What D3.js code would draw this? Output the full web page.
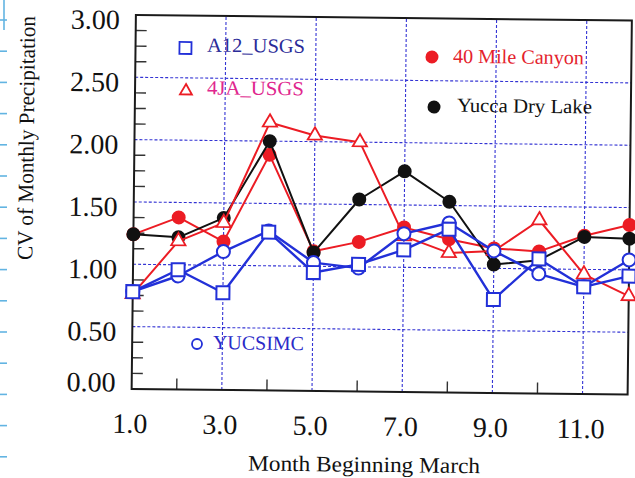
<!DOCTYPE html>
<html>
<head>
<meta charset="utf-8">
<script src="https://cdn.jsdelivr.net/npm/d3@7/dist/d3.min.js"></script>
<style>
  html, body { margin: 0; padding: 0; background: #fff; }
  svg { display: block; }
  text { font-family: "Liberation Serif", "Times New Roman", serif; }
</style>
</head>
<body>
<script>
// Months (1 = March) and coefficient of variation of monthly precipitation per station
const months = [1, 2, 3, 4, 5, 6, 7, 8, 9, 10, 11, 12];
const a12Usgs        = [0.78, 0.96, 0.78, 1.27, 0.95, 1.02, 1.14, 1.31, 0.75, 1.08, 0.86, 0.95];
const ja4Usgs        = [0.76, 1.19, 1.34, 2.15, 2.05, 2.00, 1.25, 1.12, 1.14, 1.39, 0.96, 0.79];
const fortyMileCanyon = [1.24, 1.38, 1.19, 1.89, 1.12, 1.20, 1.32, 1.23, 1.16, 1.14, 1.27, 1.36];
const yuccaDryLake   = [1.24, 1.22, 1.38, 2.00, 1.11, 1.54, 1.77, 1.53, 1.03, 1.07, 1.26, 1.25];
const yucsimc        = [0.78, 0.91, 1.11, 1.28, 1.03, 0.99, 1.27, 1.36, 1.14, 0.96, 0.86, 1.08];

const xTicks = [1, 3, 5, 7, 9, 11];
const xMinorTicks = [2, 4, 6, 8, 10];
const yTicks = [0, 0.5, 1.0, 1.5, 2.0, 2.5, 3.0];

const W = 635, H = 478;
const BLUE = "#2230d8", RED = "#ec1c24", BLACK = "#111111", GRID = "#3434d4";

const svg = d3.select("body").append("svg")
  .attr("width", W).attr("height", H);

svg.append("rect").attr("width", W).attr("height", H).attr("fill", "#fff");

// ruled margin of the sheet along the left edge
const margin = svg.append("g").attr("stroke", "#62b4e2").attr("stroke-width", 1.6);
margin.append("line").attr("x1", 4).attr("x2", 4).attr("y1", 0).attr("y2", 30);
margin.selectAll("line.rule").data(d3.range(20, H, 31.2)).join("line")
  .attr("class", "rule")
  .attr("x1", 0).attr("x2", 7).attr("y1", d => d).attr("y2", d => d);

// whole figure sits slightly askew on the page
const g = svg.append("g").attr("transform", "rotate(0.65,381.75,204.75)");

const x = d3.scaleLinear().domain([1, 12]).range([133.75, 629.75]);
const y = d3.scaleLinear().domain([0, 3]).range([391.75, 17.75]);

// dashed grid
g.append("g").selectAll("line").data(xTicks.filter(d => d > 1)).join("line")
  .attr("x1", d => x(d)).attr("x2", d => x(d))
  .attr("y1", y(0)).attr("y2", y(3))
  .attr("stroke", GRID).attr("stroke-width", 1.1).attr("stroke-dasharray", "3,2");
g.append("g").selectAll("line").data(yTicks.filter(d => d > 0 && d < 3)).join("line")
  .attr("x1", x(1)).attr("x2", x(12))
  .attr("y1", d => y(d)).attr("y2", d => y(d))
  .attr("stroke", GRID).attr("stroke-width", 1.1).attr("stroke-dasharray", "3,2");

// minor ticks
const yMinor = d3.range(0.125, 3, 0.125).filter(v => Math.abs(v / 0.5 - Math.round(v / 0.5)) > 1e-6);
g.append("g").selectAll("line").data(yMinor).join("line")
  .attr("x1", x(1)).attr("x2", x(1) + 11)
  .attr("y1", d => y(d)).attr("y2", d => y(d))
  .attr("stroke", "#333").attr("stroke-width", 1.4);
g.append("g").selectAll("line").data(xMinorTicks).join("line")
  .attr("x1", d => x(d)).attr("x2", d => x(d))
  .attr("y1", y(0)).attr("y2", y(0) - 11)
  .attr("stroke", "#333").attr("stroke-width", 1.4);

// frame
g.append("rect")
  .attr("x", x(1)).attr("y", y(3))
  .attr("width", x(12) - x(1)).attr("height", y(0) - y(3))
  .attr("fill", "none").attr("stroke", "#1a1a1a").attr("stroke-width", 2);

// axes labels
const yAxis = g.append("g").attr("transform", `translate(${x(1)},0)`)
  .call(d3.axisLeft(y).tickValues(yTicks).tickFormat(d3.format(".2f")).tickSize(0).tickPadding(16));
yAxis.select(".domain").remove();
yAxis.selectAll("text")
  .attr("font-size", 28).attr("fill", "#111")
  .attr("font-family", "Liberation Serif, serif")
  .attr("dy", d => d === 0 ? "2.5" : "0.5em");

const xAxis = g.append("g").attr("transform", `translate(0,${y(0)})`)
  .call(d3.axisBottom(x).tickValues(xTicks).tickFormat(d3.format(".1f")).tickSize(0));
xAxis.select(".domain").remove();
xAxis.selectAll("text")
  .attr("font-size", 28).attr("fill", "#111")
  .attr("font-family", "Liberation Serif, serif")
  .attr("y", 44).attr("dy", 0).attr("dx", -2);

g.append("text")
  .attr("x", 367).attr("y", 472)
  .attr("text-anchor", "middle")
  .attr("font-size", 22).attr("fill", "#111")
  .attr("textLength", 232).attr("lengthAdjust", "spacingAndGlyphs")
  .text("Month Beginning March");

g.append("text")
  .attr("transform", "translate(33,142) rotate(-90)")
  .attr("text-anchor", "middle")
  .attr("font-size", 22).attr("fill", "#111")
  .attr("textLength", 244).attr("lengthAdjust", "spacingAndGlyphs")
  .text("CV of Monthly Precipitation");

// series lines and markers
const line = d3.line().x((d, i) => x(months[i])).y(d => y(d));

function drawLine(values, color, width) {
  g.append("path").datum(values)
    .attr("d", line).attr("fill", "none")
    .attr("stroke", color).attr("stroke-width", width)
    .attr("stroke-linejoin", "round");
}

const triangle = d3.symbol(d3.symbolTriangle, 88);

// 40 Mile Canyon
drawLine(fortyMileCanyon, RED, 2);
g.append("g").selectAll("circle").data(fortyMileCanyon).join("circle")
  .attr("cx", (d, i) => x(months[i])).attr("cy", d => y(d)).attr("r", 7)
  .attr("fill", RED);

// Yucca Dry Lake
drawLine(yuccaDryLake, BLACK, 2);
g.append("g").selectAll("circle").data(yuccaDryLake).join("circle")
  .attr("cx", (d, i) => x(months[i])).attr("cy", d => y(d)).attr("r", 7)
  .attr("fill", BLACK);

// 4JA_USGS
drawLine(ja4Usgs, RED, 2);
g.append("g").selectAll("path").data(ja4Usgs).join("path")
  .attr("d", triangle)
  .attr("transform", (d, i) => `translate(${x(months[i])},${y(d)})`)
  .attr("fill", "#fff").attr("stroke", RED).attr("stroke-width", 1.8);

// YUCSIMC
drawLine(yucsimc, BLUE, 2.4);
g.append("g").selectAll("circle").data(yucsimc).join("circle")
  .attr("cx", (d, i) => x(months[i])).attr("cy", d => y(d)).attr("r", 6.5)
  .attr("fill", "#fff").attr("stroke", BLUE).attr("stroke-width", 2);

// A12_USGS
drawLine(a12Usgs, BLUE, 2.4);
g.append("g").selectAll("rect").data(a12Usgs).join("rect")
  .attr("x", (d, i) => x(months[i]) - 6.5).attr("y", d => y(d) - 6.5)
  .attr("width", 13).attr("height", 13)
  .attr("fill", "#fff").attr("stroke", BLUE).attr("stroke-width", 2);

// legend entries
const legend = g.append("g").attr("font-size", 20);

legend.append("rect").attr("x", 177.7).attr("y", 44.2).attr("width", 12).attr("height", 12)
  .attr("fill", "#fff").attr("stroke", BLUE).attr("stroke-width", 1.8);
legend.append("text").attr("x", 205.3).attr("y", 53.7).attr("fill", "#2b2b98")
  .attr("textLength", 98).attr("lengthAdjust", "spacingAndGlyphs").text("A12_USGS");

legend.append("path").attr("d", d3.symbol(d3.symbolTriangle, 62))
  .attr("transform", "translate(184.7,93.2)")
  .attr("fill", "#fff").attr("stroke", RED).attr("stroke-width", 1.8);
legend.append("text").attr("x", 205.7).attr("y", 96.3).attr("fill", "#e0268e")
  .attr("textLength", 97).attr("lengthAdjust", "spacingAndGlyphs").text("4JA_USGS");

legend.append("circle").attr("cx", 430.3).attr("cy", 56.4).attr("r", 6.5).attr("fill", RED);
legend.append("text").attr("x", 451.3).attr("y", 62).attr("fill", "#e4222c")
  .attr("textLength", 131).attr("lengthAdjust", "spacingAndGlyphs").text("40 Mile Canyon");

legend.append("circle").attr("cx", 432.9).attr("cy", 106.4).attr("r", 6.5).attr("fill", BLACK);
legend.append("text").attr("x", 455.9).attr("y", 111).attr("fill", "#111")
  .attr("textLength", 135).attr("lengthAdjust", "spacingAndGlyphs").text("Yucca Dry Lake");

legend.append("circle").attr("cx", 198.6).attr("cy", 346.1).attr("r", 5)
  .attr("fill", "#fff").attr("stroke", BLUE).attr("stroke-width", 1.8);
legend.append("text").attr("x", 214.6).attr("y", 351).attr("fill", "#2a2ac8")
  .attr("textLength", 91).attr("lengthAdjust", "spacingAndGlyphs").text("YUCSIMC");
</script>
</body>
</html>
